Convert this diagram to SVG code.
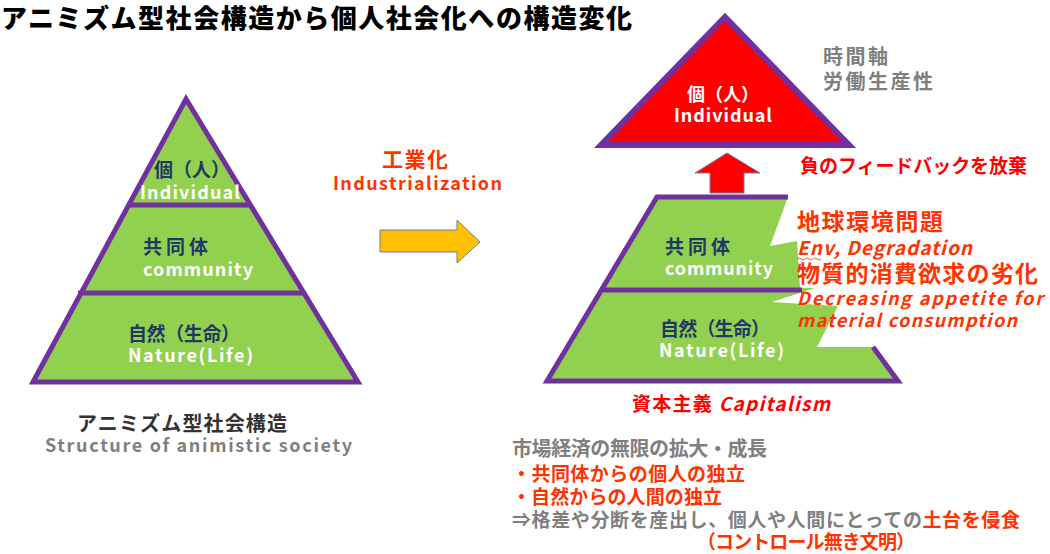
<svg xmlns="http://www.w3.org/2000/svg" width="1050" height="554" viewBox="0 0 1050 554">
<style>
text{font-family:"Noto Sans CJK JP","Noto Sans",sans-serif;font-weight:bold;}
.title{font-size:26px;fill:#000;font-weight:900;}
.blue{fill:#1F3864;font-size:19px;}
.white{fill:#fff;font-size:18px;}
.gray{fill:#7F7F7F;font-size:20px;}
.org{fill:#FF3300;}
.red{fill:#FF0000;}
.it{font-style:italic;}
.pyr{fill:#92D050;stroke:#7030A0;stroke-width:5;stroke-linejoin:miter;}
.pl{stroke:#7030A0;stroke-width:5;fill:none;}
.arr{stroke:#6A7FA0;stroke-width:1;}
</style>
<rect width="1050" height="554" fill="#fff"/>
<text class="title" x="1" y="28" textLength="631">アニミズム型社会構造から個人社会化への構造変化</text>

<g id="left-pyramid">
<polygon class="pyr" points="186,99 358,382 33,382"/>
<line class="pl" x1="127" y1="205" x2="251" y2="205"/>
<line class="pl" x1="78" y1="293" x2="304" y2="293"/>
<text class="blue" x="154" y="177" font-size="18">個（人）</text>
<text class="white" x="140" y="199" textLength="100">Individual</text>
<text class="blue" x="143" y="254" font-size="20" textLength="65">共同体</text>
<text class="white" x="143" y="276" textLength="110">community</text>
<text class="blue" x="128" y="341" textLength="112">自然（生命）</text>
<text class="white" x="128" y="362" textLength="125">Nature(Life)</text>
</g>

<g id="left-caption">
<text x="77" y="431" font-size="20" fill="#333" textLength="210">アニミズム型社会構造</text>
<text x="45" y="452" font-size="18" fill="#7F7F7F" textLength="307">Structure of animistic society</text>
</g>

<g id="industrialization">
<text class="org" x="382" y="167" font-size="21" textLength="66">工業化</text>
<text class="org" x="333" y="190" font-size="18" textLength="169">Industrialization</text>
</g>

<g id="connectors">
<polygon class="arr" fill="#FFC000" points="380,230 457,230 457,220 480,242 457,263 457,252 380,252"/>
<polygon class="arr" fill="#FF0000" points="727,153 760,173 744,173 744,193 710,193 710,173 695,173"/>
</g>

<g id="individual-top">
<polygon fill="#FF0000" stroke="#7030A0" stroke-width="6" points="725,17 849,145 601,145"/>
<text class="white" x="687" y="101" font-size="18">個（人）</text>
<text class="white" x="674" y="122" textLength="98">Individual</text>
</g>

<g id="time-axis">
<text class="gray" x="823" y="64" font-size="21" textLength="65">時間軸</text>
<text class="gray" x="823" y="89" font-size="21" textLength="110">労働生産性</text>
</g>

<g id="feedback">
<text class="red" x="800" y="173" font-size="19" textLength="227">負のフィードバックを放棄</text>
</g>

<g id="capitalism-pyramid">
<polygon fill="#92D050" points="657,197 788,197 770,246 797,241 800,288 815,288 772,302 838,306 817,347 873,347 898,381 547,381"/>
<polyline class="pl" points="788,197 657,197 547,381 898,381 873,347"/>
<line class="pl" x1="601" y1="290" x2="802" y2="290"/>
<text class="blue" x="665" y="254" font-size="20" textLength="65">共同体</text>
<text class="white" x="665" y="275" textLength="108">community</text>
<text class="blue" x="660" y="336" textLength="110">自然（生命）</text>
<text class="white" x="659" y="357" textLength="125">Nature(Life)</text>
</g>

<g id="problems">
<text class="org" x="797" y="230" font-size="23" textLength="146">地球環境問題</text>
<text class="org it" x="797" y="255" font-size="19" textLength="175">Env, Degradation</text>
<path d="M797,259 q2,-2 4,0 t4,0 t4,0 t4,0 t4,0 t4,0" fill="none" stroke="#FF3300" stroke-width="0.8"/>
<text class="org" x="797" y="282" font-size="23" textLength="241">物質的消費欲求の劣化</text>
<text class="org it" x="797" y="305" font-size="18" textLength="246">Decreasing appetite for</text>
<text class="org it" x="797" y="327" font-size="18" textLength="220">material consumption</text>
</g>

<g id="capitalism-label">
<text class="red" x="632" y="411" font-size="19" textLength="198"><tspan>資本主義 </tspan><tspan class="it">Capitalism</tspan></text>
</g>

<g id="notes">
<text class="gray" x="512" y="456" font-size="19" textLength="255">市場経済の無限の拡大・成長</text>
<text class="org" x="512" y="481" font-size="19" textLength="233">・共同体からの個人の独立</text>
<text class="org" x="512" y="504" font-size="19" textLength="210">・自然からの人間の独立</text>
<text x="512" y="527" font-size="19" textLength="508" fill="#7F7F7F">⇒格差や分断を産出し、個人や人間にとっての<tspan fill="#FF3300">土台を侵食</tspan></text>
<text class="org" x="697" y="549" font-size="19" textLength="218">（コントロール無き文明）</text>
</g>
</svg>
